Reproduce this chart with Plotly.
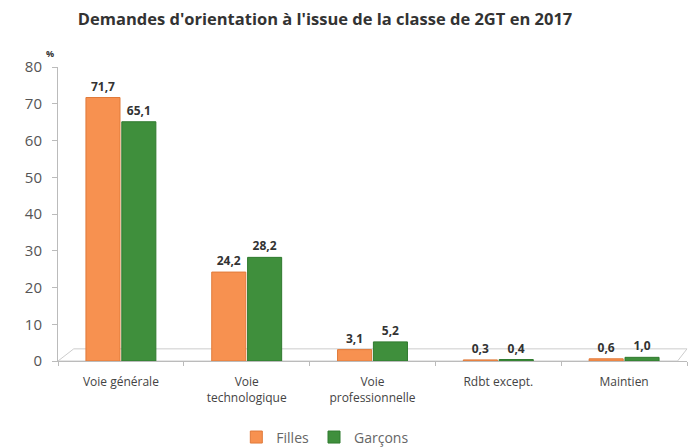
import plotly.graph_objects as go

categories = ["Voie générale", "Voie<br>technologique", "Voie<br>professionnelle", "Rdbt except.", "Maintien"]
filles = [71.7, 24.2, 3.1, 0.3, 0.6]
garcons = [65.1, 28.2, 5.2, 0.4, 1.0]
y_ticks = [0, 10, 20, 30, 40, 50, 60, 70, 80]

def fmt(v):
    return "<b>" + f"{v:.1f}".replace(".", ",") + "</b>"

fig = go.Figure()
fig.add_trace(go.Bar(
    x=categories, y=filles, name="Filles",
    marker=dict(color="#F79150", line=dict(color="#E07A3A", width=1)),
    text=[fmt(v) for v in filles], textposition="outside",
    textfont=dict(family="Open Sans, DejaVu Sans", size=12, color="#333333"),
    cliponaxis=False,
))
fig.add_trace(go.Bar(
    x=categories, y=garcons, name="Garçons",
    marker=dict(color="#3F8F3C", line=dict(color="#2F7A2E", width=1)),
    text=[fmt(v) for v in garcons], textposition="outside",
    textfont=dict(family="Open Sans, DejaVu Sans", size=12, color="#333333"),
    cliponaxis=False,
))

fig.update_layout(
    width=699, height=447,
    margin=dict(l=58, r=12, t=67, b=86, autoexpand=False),
    paper_bgcolor="white", plot_bgcolor="white",
    barmode="group", bargap=0.43, bargroupgap=0.05,
    title=dict(text="<b>Demandes d'orientation à l'issue de la classe de 2GT en 2017</b>",
               x=0.465, xanchor="center", y=0.958, yanchor="middle",
               font=dict(family="Open Sans, DejaVu Sans", size=16.5, color="#333333")),
    font=dict(family="Open Sans, DejaVu Sans", color="#555555"),
    legend=dict(orientation="h", x=0.425, xanchor="center", y=-0.26, yanchor="middle",
                font=dict(size=14, color="#666666"), itemwidth=30, traceorder="normal"),
    showlegend=True,
)
fig.update_xaxes(showgrid=False, showline=True, linecolor="#BBBBBB", automargin=False,
                 ticks="outside", tickcolor="#BBBBBB", tickson="boundaries", ticklen=4,
                 ticklabelstandoff=10,
                 tickfont=dict(size=12, color="#444444"))
fig.update_yaxes(range=[0, 80], tickvals=y_ticks, showgrid=False, showline=True, automargin=False,
                 linecolor="#BBBBBB", ticks="outside", tickcolor="#BBBBBB", ticklen=5,
                 ticklabelstandoff=7,
                 tickfont=dict(size=15, color="#555555"), zeroline=False)

# floor of the 3D-like chart
fig.add_shape(type="path", xref="x domain", yref="y",
              path="M 0 0 L 0.025 3.3 L 1.0 3.3 L 0.985 0 Z",
              line=dict(color="#CCCCCC", width=1), fillcolor="rgba(0,0,0,0)", layer="below")

fig.add_annotation(text="<b>%</b>", xref="paper", yref="paper", x=-0.022, y=1.075,
                   showarrow=False, font=dict(size=9, color="#333333"))

fig.write_html("out.html", config={"displayModeBar": False},
               post_script="document.body.style.margin='0';document.body.style.overflow='hidden';")
